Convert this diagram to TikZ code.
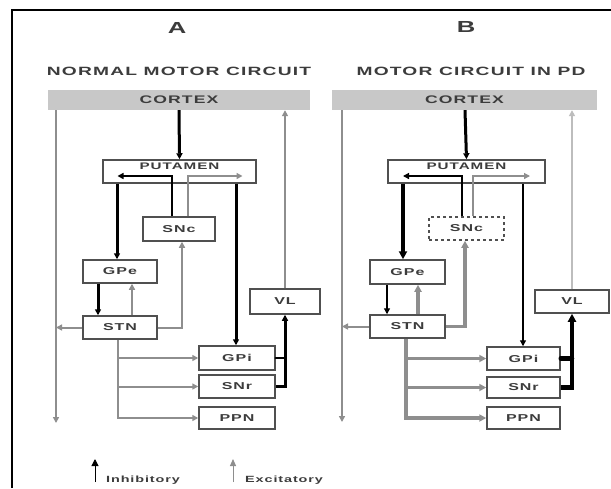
\documentclass[tikz,border=0pt]{standalone}
\usepackage{fontspec}
\newfontfamily\lbl[FakeStretch=1.6,LetterSpace=10]{Liberation Sans}
\usetikzlibrary{arrows.meta}
\definecolor{txt}{HTML}{3C3C3C}
\definecolor{boxc}{HTML}{505050}
\definecolor{gry}{HTML}{8E8E8E}
\definecolor{lgry}{HTML}{BDBDBD}
\definecolor{ctx}{HTML}{C8C8C8}
\begin{document}
\begin{tikzpicture}[x=1pt,y=-1pt,
  box/.style={draw=boxc, line width=1.5pt, fill=white, inner sep=0pt, text=txt,
    font=\lbl\bfseries\fontsize{10}{11}\selectfont},
  bar/.style={fill=ctx, inner sep=0pt, minimum height=20pt, text=txt,
    font=\lbl\bfseries\fontsize{11}{12}\selectfont},
  ttl/.style={text=txt, inner sep=0pt, font=\lbl\bfseries\fontsize{12}{13}\selectfont},
  letter/.style={text=txt, inner sep=0pt, font=\lbl\bfseries\fontsize{16}{17}\selectfont},
  leg/.style={text=txt, inner sep=0pt, anchor=west, font=\lbl\bfseries\fontsize{9}{10}\selectfont},
  tip/.style={-{Triangle[length=6pt,width=6pt]}},
  blk/.style={draw=black, line width=3pt, tip},
  blkthin/.style={draw=black, line width=1.3pt, tip},
  blkfat/.style={draw=black, line width=4.5pt, -{Triangle[length=8pt,width=8pt]}},
  gr/.style={draw=gry, line width=2pt, tip},
  grthin/.style={draw=gry, line width=1.3pt, tip},
  grfat/.style={draw=gry, line width=3.2pt, -{Triangle[length=7pt,width=7pt]}},
  lg/.style={draw=lgry, line width=1.6pt, tip},
  plain/.style={line width=2pt, line cap=round}
]
\useasboundingbox (0,0) rectangle (611,488);
\fill[white] (0,0) rectangle (611,488);
% frame
\draw[line width=2pt, black] (12,488) -- (12,10) -- (611,10);

% ---------- Panel A ----------
\node[letter] (letA) at (177,28) {A};
\node[ttl] (ttlA) at (179,71) {NORMAL MOTOR CIRCUIT};
\node[bar, minimum width=262pt] (cortA) at (179,100) {CORTEX};
\node[box, minimum width=153pt, minimum height=23pt] (putA) at (179.5,171.5) {};
\node[text=txt, inner sep=0pt, font=\lbl\bfseries\fontsize{9.5}{10}\selectfont] (putAl) at (179.5,166) {PUTAMEN};
\node[box, minimum width=72pt, minimum height=24pt] (sncA) at (179,229) {SNc};
\node[box, minimum width=74pt, minimum height=23pt] (gpeA) at (120,271.5) {GPe};
\node[box, minimum width=74pt, minimum height=23pt] (stnA) at (120,327.5) {STN};
\node[box, minimum width=76pt, minimum height=24pt] (gpiA) at (237,358) {GPi};
\node[box, minimum width=76pt, minimum height=23pt] (snrA) at (237,386.5) {SNr};
\node[box, minimum width=76pt, minimum height=22pt] (ppnA) at (237,418) {PPN};
\node[box, minimum width=70pt, minimum height=25pt] (vlA) at (285,301.5) {VL};
\coordinate (lAt) at (56,110);
\coordinate (lAb) at (56,423);
\coordinate (stemA) at (118,0);
\coordinate (vrA) at (284,0);

\draw[blk] (cortA.south) -- (putA.north);
\draw[blk, line width=2.2pt] ([xshift=-7pt]sncA.north) |- ([xshift=-62pt,yshift=-4.5pt]putA.center);
\draw[gr, line width=1.6pt] ([xshift=9pt]sncA.north) |- ([xshift=63pt,yshift=-4.5pt]putA.center);
\draw[blk] ([xshift=-62.5pt]putA.south) -- ([xshift=-3pt]gpeA.north);
\draw[blk] ([xshift=56.5pt]putA.south) -- ([xshift=-1pt]gpiA.north);
\draw[blk] ([xshift=-22pt]gpeA.south) -- ([xshift=-22pt]stnA.north);
\draw[gr] ([xshift=12pt]stnA.north) -- ([xshift=12pt]gpeA.south);
\draw[gr] (stnA.east) -| ([xshift=3pt]sncA.south);
\draw[gr] (stnA.west) -- (stnA.west -| lAt);
\draw[gr] (cortA.south -| lAt) -- (lAb);
\draw[gr] (stnA.south -| stemA) |- (ppnA.west);
\draw[gr] (gpiA.west -| stemA) -- (gpiA.west);
\draw[gr] (snrA.west -| stemA) -- (snrA.west);
\draw[plain, line width=2.8pt] (gpiA.east) -- (gpiA.east -| vrA);
\draw[blk] (snrA.east) -| (vlA.south);
\draw[gr, line width=1.8pt] (vlA.north) -- (vlA.north |- cortA.south);

% ---------- Panel B ----------
\node[letter] (letB) at (466,27) {B};
\node[ttl] (ttlB) at (471,71) {MOTOR CIRCUIT IN PD};
\node[bar, minimum width=265pt] (cortB) at (464.5,100) {CORTEX};
\node[box, minimum width=157pt, minimum height=23pt] (putB) at (466.5,171.5) {};
\node[text=txt, inner sep=0pt, font=\lbl\bfseries\fontsize{9.5}{10}\selectfont] (putBl) at (466.5,166) {PUTAMEN};
\node[box, dashed, minimum width=75pt, minimum height=23pt] (sncB) at (466.5,228.5) {SNc};
\node[box, minimum width=75pt, minimum height=24pt] (gpeB) at (407.5,272) {GPe};
\node[box, minimum width=75pt, minimum height=23pt] (stnB) at (407.5,326.5) {STN};
\node[box, minimum width=73pt, minimum height=23pt] (gpiB) at (523.5,358.5) {GPi};
\node[box, minimum width=73pt, minimum height=21pt] (snrB) at (523.5,387.5) {SNr};
\node[box, minimum width=73pt, minimum height=22pt] (ppnB) at (523.5,418) {PPN};
\node[box, minimum width=74pt, minimum height=23pt] (vlB) at (572,301.5) {VL};
\coordinate (lBt) at (342,110);
\coordinate (lBb) at (342,422);
\coordinate (stemB) at (406,0);
\coordinate (vrB) at (572,0);

\draw[blk] ([xshift=0.5pt]cortB.south) -- (putB.north);
\draw[blkthin] ([xshift=-4.5pt]sncB.north) |- ([xshift=-63.5pt,yshift=-4.5pt]putB.center);
\draw[grthin] ([xshift=6.5pt]sncB.north) |- ([xshift=63.5pt,yshift=-4.5pt]putB.center);
\draw[blkfat] ([xshift=-63.5pt]putB.south) -- ([xshift=-4.5pt]gpeB.north);
\draw[blkthin] ([xshift=56.5pt]putB.south) -- ([xshift=-0.5pt]gpiB.north);
\draw[blkthin] ([xshift=-20.5pt]gpeB.south) -- ([xshift=-20.5pt]stnB.north);
\draw[grfat] ([xshift=10.5pt]stnB.north) -- ([xshift=10.5pt]gpeB.south);
\draw[grfat] (stnB.east) -| ([xshift=-1.5pt]sncB.south);
\draw[gr] (stnB.west) -- (stnB.west -| lBt);
\draw[gr] (cortB.south -| lBt) -- (lBb);
\draw[grfat] (stnB.south -| stemB) |- (ppnB.west);
\draw[grfat] (gpiB.west -| stemB) -- (gpiB.west);
\draw[grfat] (snrB.west -| stemB) -- (snrB.west);
\draw[plain, line width=4.5pt] (gpiB.east) -- (gpiB.east -| vrB);
\draw[blkfat] (snrB.east) -| (vlB.south);
\draw[lg] (vlB.north) -- (vlB.north |- cortB.south);

% ---------- Legend ----------
\coordinate (inhS) at (95,482);
\coordinate (inhE) at (95,459);
\coordinate (excS) at (233,482);
\coordinate (excE) at (233,459);
\draw[draw=black, line width=1pt, -{Triangle[length=7pt,width=7pt]}] (inhS) -- (inhE);
\draw[draw=gry, line width=1pt, -{Triangle[length=7pt,width=6pt]}] (excS) -- (excE);
\node[leg] (inhL) at (106,480) {Inhibitory};
\node[leg] (excL) at (245,480) {Excitatory};
\end{tikzpicture}
\end{document}
